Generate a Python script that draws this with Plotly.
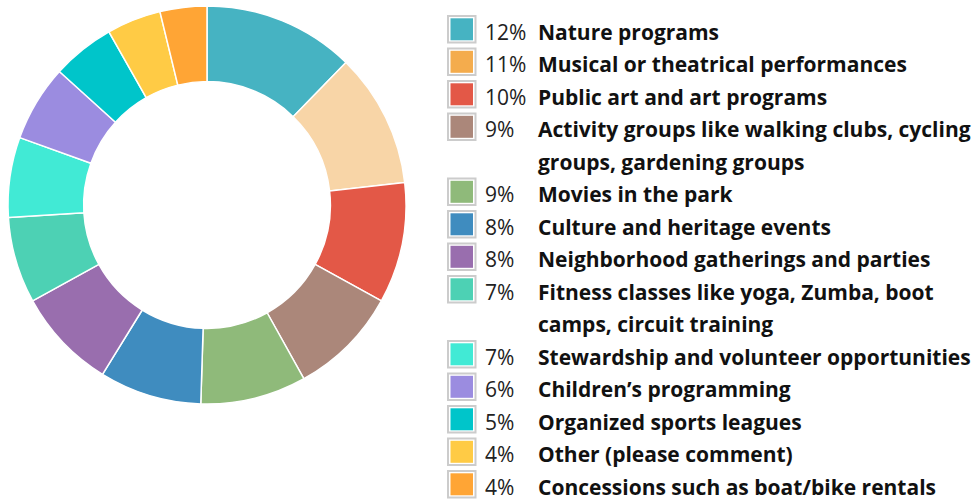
import plotly.graph_objects as go

# ---- data ----
label_lines = [
    ["Nature programs"],
    ["Musical or theatrical performances"],
    ["Public art and art programs"],
    ["Activity groups like walking clubs, cycling", "groups, gardening groups"],
    ["Movies in the park"],
    ["Culture and heritage events"],
    ["Neighborhood gatherings and parties"],
    ["Fitness classes like yoga, Zumba, boot", "camps, circuit training"],
    ["Stewardship and volunteer opportunities"],
    ["Children\u2019s programming"],
    ["Organized sports leagues"],
    ["Other (please comment)"],
    ["Concessions such as boat/bike rentals"],
]
labels = [" ".join(l) for l in label_lines]
values = [12.3, 10.9, 9.8, 8.9, 8.6, 8.3, 8.2, 7.0, 6.5, 6.2, 5.1, 4.4, 3.8]
pct_labels = ["12%", "11%", "10%", "9%", "9%", "8%", "8%", "7%", "7%", "6%", "5%", "4%", "4%"]
pie_colors = ["#46B3C2", "#F8D5A7", "#E35847", "#AB877A", "#8FBA7A", "#3F8CBF", "#996EAE",
              "#4DD1B4", "#41EAD5", "#9B8CE0", "#00C5CA", "#FFCB45", "#FFA535"]
legend_colors = ["#46B3C2", "#F4AC4D", "#E35847", "#AB877A", "#8FBA7A", "#3F8CBF", "#996EAE",
                 "#4DD1B4", "#41EAD5", "#9B8CE0", "#00C5CA", "#FFCB45", "#FFA535"]

W, H = 976, 500
FONT = "Open Sans"
FS = 21

fig = go.Figure()
fig.add_trace(go.Pie(
    labels=labels, values=values, sort=False, direction="clockwise", rotation=0,
    hole=0.62, marker=dict(colors=pie_colors, line=dict(color="white", width=1.5)),
    textinfo="none", hoverinfo="label+percent", showlegend=False,
    domain=dict(x=[8 / W, 406 / W], y=[96 / H, 494 / H]),
))

def px(x):
    return x / W

def py(y):
    return 1 - y / H

shapes = []
annotations = []
line_h = 32.5
first_center = 29.3
line_idx = 0
for i, lines in enumerate(label_lines):
    cy = first_center + line_idx * line_h
    shapes.append(dict(type="rect", xref="paper", yref="paper",
                       x0=px(448), x1=px(475.5), y0=py(cy - 13.3), y1=py(cy + 13.3),
                       line=dict(color="#CCCCCC", width=2), fillcolor="white"))
    shapes.append(dict(type="rect", xref="paper", yref="paper",
                       x0=px(450.5), x1=px(473), y0=py(cy - 11), y1=py(cy + 11),
                       line=dict(width=0), fillcolor=legend_colors[i]))
    annotations.append(dict(xref="paper", yref="paper", x=px(483), y=py(cy + 2.5),
                            text=pct_labels[i], showarrow=False, xanchor="left", yanchor="middle",
                            font=dict(family=FONT, size=FS, color="#222222")))
    for j, t in enumerate(lines):
        annotations.append(dict(xref="paper", yref="paper", x=px(535.5), y=py(cy + 2.5 + j * line_h),
                                text="<b>" + t + "</b>", showarrow=False, xanchor="left",
                                yanchor="middle",
                                font=dict(family=FONT, size=FS, color="#111111")))
    line_idx += len(lines)

fig.update_layout(
    width=W, height=H, margin=dict(l=0, r=0, t=0, b=0),
    paper_bgcolor="white", plot_bgcolor="white",
    shapes=shapes, annotations=annotations,
    font=dict(family=FONT),
)
fig.write_html("out.html", config={"displayModeBar": False},
               post_script="document.body.style.margin='0';document.body.style.overflow='hidden';")
